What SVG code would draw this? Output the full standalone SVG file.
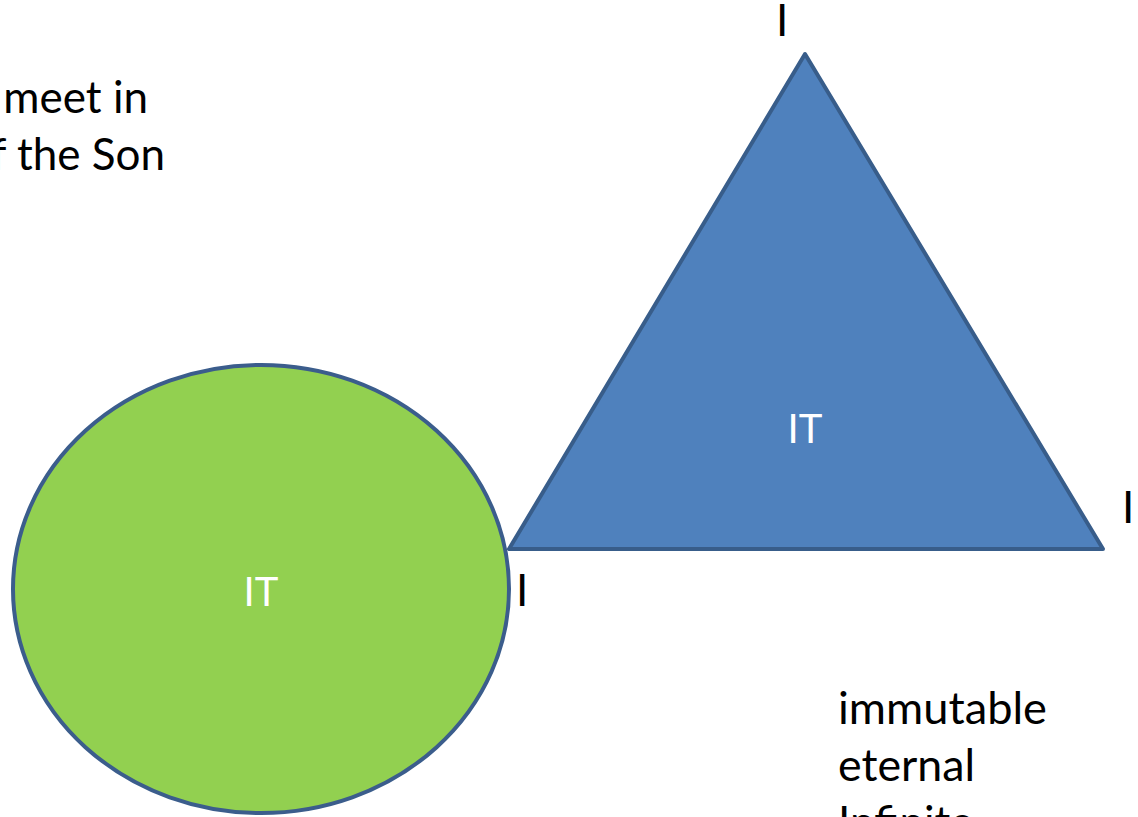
<svg xmlns="http://www.w3.org/2000/svg" width="1138" height="817" viewBox="0 0 1138 817">
  <style>
    .txt { font-family: Lato, "Open Sans", "Liberation Sans", sans-serif; font-size: 44px; fill: #000; }
    .lbl { font-family: Lato, "Open Sans", "Liberation Sans", sans-serif; font-size: 40px; fill: #fff; text-anchor: middle; }
    .shape { stroke-width: 4; stroke-linejoin: round; }
  </style>
  <rect width="1138" height="817" fill="#fff"/>

  <!-- caption fragment at top left, running off the left edge -->
  <g id="caption">
    <text class="txt" x="148" y="113" text-anchor="end">meet in</text>
    <text class="txt" x="165" y="170" text-anchor="end">f the Son</text>
  </g>

  <!-- green ellipse -->
  <g id="ellipse-node">
    <ellipse class="shape" cx="261" cy="589" rx="248" ry="224" fill="#92d050" stroke="#3b5d8c"/>
    <text class="lbl" x="261" y="606">IT</text>
  </g>

  <!-- blue triangle -->
  <g id="triangle-node">
    <polygon class="shape" points="805,54 509,549 1103,549" fill="#4f81bd" stroke="#385d8a"/>
    <text class="lbl" x="805" y="443">IT</text>
  </g>

  <!-- vertex markers -->
  <g id="vertex-labels">
    <text class="txt" x="776" y="36">I</text>
    <text class="txt" x="516" y="606">I</text>
    <text class="txt" x="1122" y="523">I</text>
  </g>

  <!-- attribute list -->
  <g id="attributes">
    <text class="txt" x="838" y="724" textLength="209" lengthAdjust="spacingAndGlyphs">immutable</text>
    <text class="txt" x="838" y="781" textLength="137" lengthAdjust="spacingAndGlyphs">eternal</text>
    <text class="txt" x="838" y="838">Infinite</text>
  </g>
</svg>
